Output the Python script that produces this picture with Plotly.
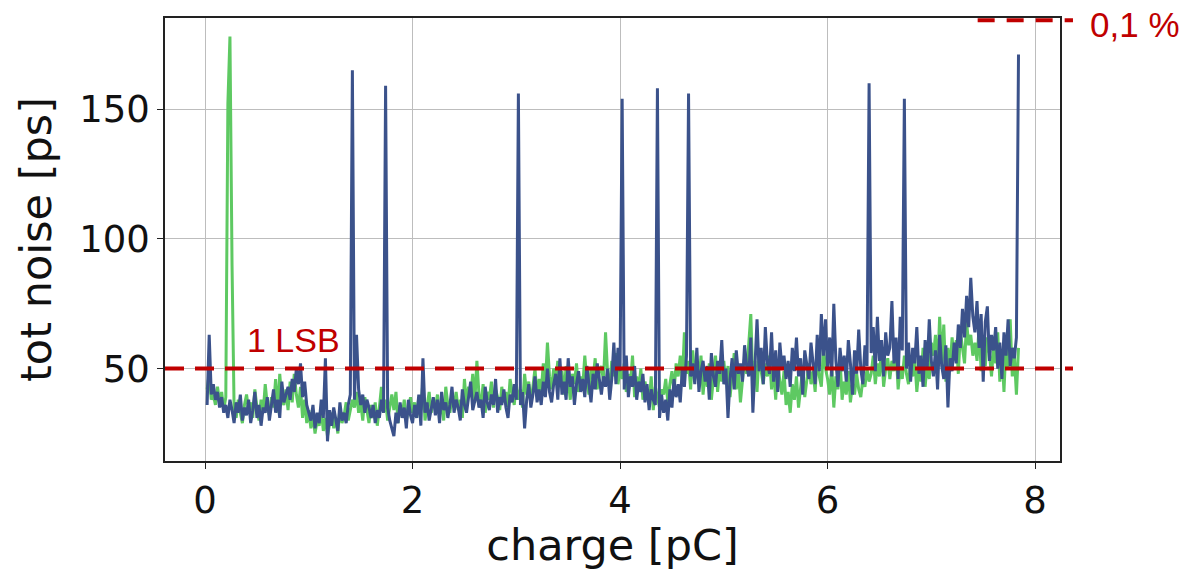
import numpy as np
import plotly.graph_objects as go

# charge scan grid [pC]
CHARGE_START = 0.02
CHARGE_STEP = 0.02
N_POINTS = 392

# tot noise [ps], series 1 (green)
noise_green = [
    42, 48, 38, 40, 36, 43, 37, 41, 34, 39,
    152, 178, 90, 35, 31, 38, 33, 29, 36, 40,
    34, 37, 31, 42, 35, 30, 38, 33, 44, 36,
    32, 39, 35, 46, 33, 48, 38, 36, 42, 34,
    45, 37, 48, 40, 35, 43, 31, 38, 29, 34,
    27, 32, 25, 30, 28, 34, 26, 31, 24, 29,
    33, 27, 31, 25, 35, 29, 32, 37, 30, 34,
    38, 35, 41, 33, 37, 30, 39, 34, 29, 36,
    31, 37, 28, 35, 43, 33, 38, 30, 36, 40,
    34, 41, 29, 36, 32, 38, 30, 35, 39, 33,
    37, 31, 39, 34, 45, 30, 36, 41, 33, 38,
    35, 40, 32, 37, 30, 43, 36, 33, 39, 35,
    41, 34, 38, 31, 46, 36, 43, 39, 48, 37,
    53, 40, 36, 44, 33, 41, 38, 45, 35, 42,
    39, 34, 43, 37, 41, 35, 46, 40, 36, 44,
    38, 42, 35, 48, 40, 45, 37, 43, 50, 39,
    46, 41, 52, 44, 60, 47, 42, 50, 45, 53,
    43, 49, 40, 51, 46, 38, 48, 44, 52, 41,
    47, 43, 55, 45, 40, 50, 46, 54, 42, 49,
    51, 45, 64, 48, 43, 53, 47, 56, 44, 50,
    46, 52, 41, 48, 44, 55, 39, 47, 42, 50,
    38, 45, 41, 36, 47, 34, 43, 39, 35, 42,
    40, 46, 37, 44, 49, 41, 52, 47, 55, 45,
    64, 48, 53, 42, 57, 46, 51, 44, 55, 40,
    49, 43, 52, 38, 47, 55, 41, 50, 45, 53,
    44, 51, 39, 48, 56, 42, 50, 37, 46, 54,
    48, 59, 71, 45, 53, 41, 57, 49, 44, 52,
    47, 55, 42, 50, 38, 53, 45, 40, 49, 36,
    41, 33, 44, 38, 47, 35, 43, 50, 39, 46,
    52, 44, 49, 41, 55, 47, 43, 58, 50, 46,
    40, 51, 35, 47, 42, 54, 38, 45, 40, 49,
    37, 44, 40, 48, 42, 39, 46, 43, 50, 45,
    48, 55, 44, 52, 47, 58, 43, 50, 54, 46,
    53, 49, 57, 42, 51, 46, 55, 48, 44, 52,
    47, 54, 41, 50, 45, 58, 43, 52, 46, 60,
    55, 63, 49, 70, 52, 67, 45, 58, 50, 62,
    54, 61, 48, 64, 57, 52, 68, 59, 63, 55,
    60, 53, 66, 49, 58, 51, 62, 56, 47, 59,
    52, 64, 45, 57, 41, 60, 50, 69, 47, 55,
    40, 58,
]

# tot noise [ps], series 2 (blue)
noise_blue = [
    36, 63, 40, 44, 38, 41, 35, 39, 33, 36,
    31, 38, 34, 29, 37, 33, 40, 30, 35, 32,
    38, 29, 34, 41, 31, 36, 28, 35, 33, 39,
    30, 36, 42, 33, 38, 31, 45, 37, 40, 43,
    38, 46, 41, 50, 44, 52, 39, 45, 36, 33,
    30, 36, 27, 33, 29, 38, 31, 54, 22, 34,
    28, 35, 31, 26, 37, 30, 33, 29, 36, 40,
    165, 38, 63, 42, 36, 40, 33, 38, 35, 31,
    36, 29, 34, 31, 38, 33, 159, 35, 30, 27,
    24, 33, 29, 37, 31, 35, 27, 38, 32, 29,
    36, 31, 40, 28, 54, 33, 37, 30, 35, 39,
    32, 38, 29, 41, 34, 37, 31, 36, 43, 33,
    38, 35, 30, 42, 36, 33, 39, 45, 34, 37,
    41, 35, 38, 31, 43, 37, 34, 40, 36, 46,
    33, 39, 36, 42, 35, 31, 40, 37, 44, 38,
    156, 36, 41, 27, 38, 44, 35, 40, 47, 37,
    42, 36, 45, 39, 50, 41, 37, 44, 48, 38,
    54, 40, 45, 38, 54, 43, 47, 36, 44, 49,
    41, 46, 39, 51, 44, 37, 48, 42, 52, 45,
    40, 47, 43, 50, 38, 46, 60, 44, 58, 49,
    154, 42, 55, 39, 47, 43, 51, 38, 45, 41,
    48, 37, 44, 34, 42, 38, 36, 158, 31, 40,
    33, 38, 30, 42, 35, 46, 39, 44, 37, 50,
    43, 55, 156, 47, 52, 44, 58, 41, 49, 53,
    45, 51, 38, 56, 47, 43, 53, 48, 61, 44,
    50, 31, 46, 54, 42, 57, 48, 52, 45, 59,
    51, 47, 62, 33, 55, 69, 49, 58, 44, 66,
    52, 48, 64, 45, 57, 41, 60, 50, 55, 46,
    53, 43, 58, 49, 62, 47, 54, 40, 57, 51,
    46, 60, 52, 44, 63, 49, 71, 55, 69, 50,
    62, 47, 75, 53, 43, 58, 49, 55, 45, 61,
    52, 40, 57, 48, 65, 50, 44, 59, 51, 160,
    56, 66, 49, 70, 53, 61, 47, 64, 55, 58,
    76, 52, 62, 46, 70, 57, 154, 50, 60, 45,
    58, 52, 66, 48, 55, 43, 61, 50, 69, 53,
    47, 57, 42, 63, 51, 46, 59, 35, 54, 49,
    60, 52, 67, 58, 73, 62, 78, 66, 85, 70,
    64, 76, 58, 71, 45, 68, 74, 53, 63, 57,
    66, 50, 60, 46, 64, 55, 69, 51, 58, 54,
    62, 171,
]

x_ticks = [0, 2, 4, 6, 8]
y_ticks = [50, 100, 150]
LSB_LEVEL = 50
LSB_LABEL = "1 LSB"
PCT_LABEL = "0,1 %"

charge = np.round(CHARGE_START + CHARGE_STEP * np.arange(N_POINTS), 2)

GREEN = "#5ec962"
BLUE = "#3b528b"
RED = "#c00000"
FONT = "DejaVu Sans"

fig = go.Figure()
fig.add_trace(go.Scatter(x=charge, y=noise_green, mode="lines",
                         line=dict(color=GREEN, width=3), showlegend=False))
fig.add_trace(go.Scatter(x=charge, y=noise_blue, mode="lines",
                         line=dict(color=BLUE, width=3), showlegend=False))

# 1 LSB dashed line (extends a bit past the right frame)
fig.add_shape(type="line", xref="paper", yref="y", x0=0, x1=1.0145,
              y0=LSB_LEVEL, y1=LSB_LEVEL,
              line=dict(color=RED, width=4, dash="19px,11px"))
# 0.1 % dashed line at the top right
fig.add_shape(type="line", xref="paper", yref="paper", x0=0.908, x1=1.0145,
              y0=0.995, y1=0.995,
              line=dict(color=RED, width=4, dash="17px,12px"))

fig.add_annotation(xref="x", yref="y", x=0.385, y=61, text=LSB_LABEL,
                   showarrow=False, xanchor="left", yanchor="middle",
                   font=dict(family="Liberation Sans", size=34, color=RED))
fig.add_annotation(xref="paper", yref="paper", x=1.031, y=0.985, text=PCT_LABEL,
                   showarrow=False, xanchor="left", yanchor="middle",
                   font=dict(family="Liberation Sans", size=35, color=RED))

axis_common = dict(showline=True, linecolor="#222", linewidth=1.5, mirror=True,
                   showgrid=True, gridcolor="#bdbdbd", gridwidth=1.2,
                   ticks="outside", ticklen=6, tickwidth=1.3, tickcolor="#222",
                   zeroline=False,
                   tickfont=dict(family=FONT, size=37, color="#111"))

fig.update_xaxes(range=[-0.386, 8.24], tickvals=x_ticks,
                 title=dict(text="charge [pC]", font=dict(family=FONT, size=43, color="#111"),
                            standoff=2),
                 **axis_common)
fig.update_yaxes(range=[14.4, 185.1], tickvals=y_ticks,
                 title=dict(text="tot noise [ps]", font=dict(family=FONT, size=43, color="#111"),
                            standoff=14),
                 **axis_common)

fig.update_layout(width=1187, height=570,
                  margin=dict(l=165, r=127, t=18, b=109),
                  plot_bgcolor="white", paper_bgcolor="white",
                  showlegend=False)

fig.write_html("out.html", config={"displayModeBar": False},
               post_script="document.body.style.margin='0';document.body.style.overflow='hidden';")
